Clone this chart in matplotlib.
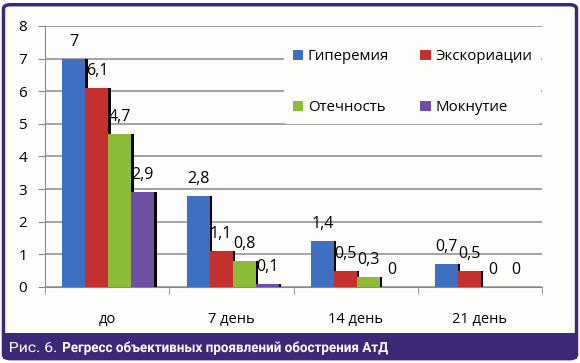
import matplotlib
matplotlib.use('Agg')
import matplotlib.pyplot as plt
import numpy as np
from matplotlib.patches import FancyBboxPatch, Rectangle, PathPatch
from matplotlib.textpath import TextPath
from matplotlib.font_manager import FontProperties
from matplotlib.transforms import Affine2D

plt.rcParams['font.family'] = ['Open Sans', 'DejaVu Sans']

# --- данные ---
categories = ['до', '7 день', '14 день', '21 день']
series = ['Гиперемия', 'Экскориации', 'Отечность', 'Мокнутие']
hyperemia = [7, 2.8, 1.4, 0.7]
excoriation = [6.1, 1.1, 0.5, 0.5]
edema = [4.7, 0.8, 0.3, 0]
wetting = [2.9, 0.1, 0, 0]
colors = ['#3f6fc0', '#c3302e', '#8cbb3a', '#6f4fa3']
caption_num = 'Рис. 6.'
caption_text = 'Регресс объективных проявлений обострения АтД'

values = [hyperemia, excoriation, edema, wetting]

fig = plt.figure(figsize=(5.8, 3.63), dpi=100)
fig.patch.set_facecolor('white')

# рамка и полоса подписи
frame = FancyBboxPatch((0.006, 0.012), 0.988, 0.975, boxstyle='round,pad=0,rounding_size=0.012',
                       transform=fig.transFigure, facecolor='#fdfdfb', edgecolor='#3d2878',
                       linewidth=2.5, zorder=-5)
fig.patches.append(frame)
band = Rectangle((0.006, 0.012), 0.988, 0.07, transform=fig.transFigure,
                 facecolor='#3d2878', edgecolor='none', zorder=-4)
fig.patches.append(band)


# узкий шрифт подписи: сжимаем контур текста по горизонтали
def narrow_text(s, x0, y0, width, weight):
    tp = TextPath((0, 0), s, size=14, prop=FontProperties(family='Roboto', weight=weight))
    ext = tp.get_extents()
    sx = width / ext.width
    tr = Affine2D().translate(-ext.x0, 0).scale(sx, 1).translate(x0, y0)
    fig.patches.append(PathPatch(tp, transform=tr, facecolor='white', edgecolor='none', zorder=2))


narrow_text(caption_num, 10, 11, 46, 'normal')
narrow_text(caption_text, 63, 11, 325, 'bold')

ax = fig.add_axes([0.0776, 0.2094, 0.857, 0.719])
ax.set_facecolor('none')

x = np.arange(len(categories))
w = 0.185
shadow = 0.018
handles = []
for i, (vals, c) in enumerate(zip(values, colors)):
    pos = x + (i - 1.5) * w + 0.01
    ax.bar(pos + shadow, vals, w, color='black', zorder=2)
    bars = ax.bar(pos, vals, w, color=c, zorder=3 + i, label=series[i])
    handles.append(bars)
    for p, v in zip(pos, vals):
        ax.annotate(str(v).replace('.', ','), (p, v), xytext=(0, 6.5), textcoords='offset points',
                    ha='center', va='bottom', fontsize=11.5, zorder=10)

ax.set_xlim(-0.5, 3.5)
ax.set_ylim(0, 8)
ax.set_yticks(range(9))
ax.set_xticks(x)
ax.set_xticklabels(categories, fontsize=10.5)
ax.set_xticks(np.arange(-0.5, 4, 1), minor=True)
ax.tick_params(axis='x', which='major', length=0, pad=18)
ax.tick_params(axis='x', which='minor', length=5, color='#888888')
ax.tick_params(axis='y', labelsize=11, length=5, color='#888888', pad=8)
ax.grid(axis='y', color='#8a8a8a', linewidth=1.1, zorder=0)
ax.set_axisbelow(True)
for s in ['top', 'right']:
    ax.spines[s].set_visible(False)
for s in ['left', 'bottom']:
    ax.spines[s].set_color('#8a8a8a')

# порядок по строкам: Гиперемия, Экскориации / Отечность, Мокнутие
order = [0, 2, 1, 3]
leg = ax.legend([handles[k] for k in order], [series[k] for k in order], ncol=2,
                loc='upper left', bbox_to_anchor=(0.465, 0.975), frameon=True,
                fontsize=10.8, handlelength=0.7, handleheight=0.7, handletextpad=0.3,
                labelspacing=2.4, columnspacing=2.1, borderpad=0.6)
leg.get_frame().set_facecolor('#fdfdfb')
leg.get_frame().set_edgecolor('none')
leg.get_frame().set_alpha(1)
leg.set_zorder(20)

fig.savefig('out.png', dpi=100)
